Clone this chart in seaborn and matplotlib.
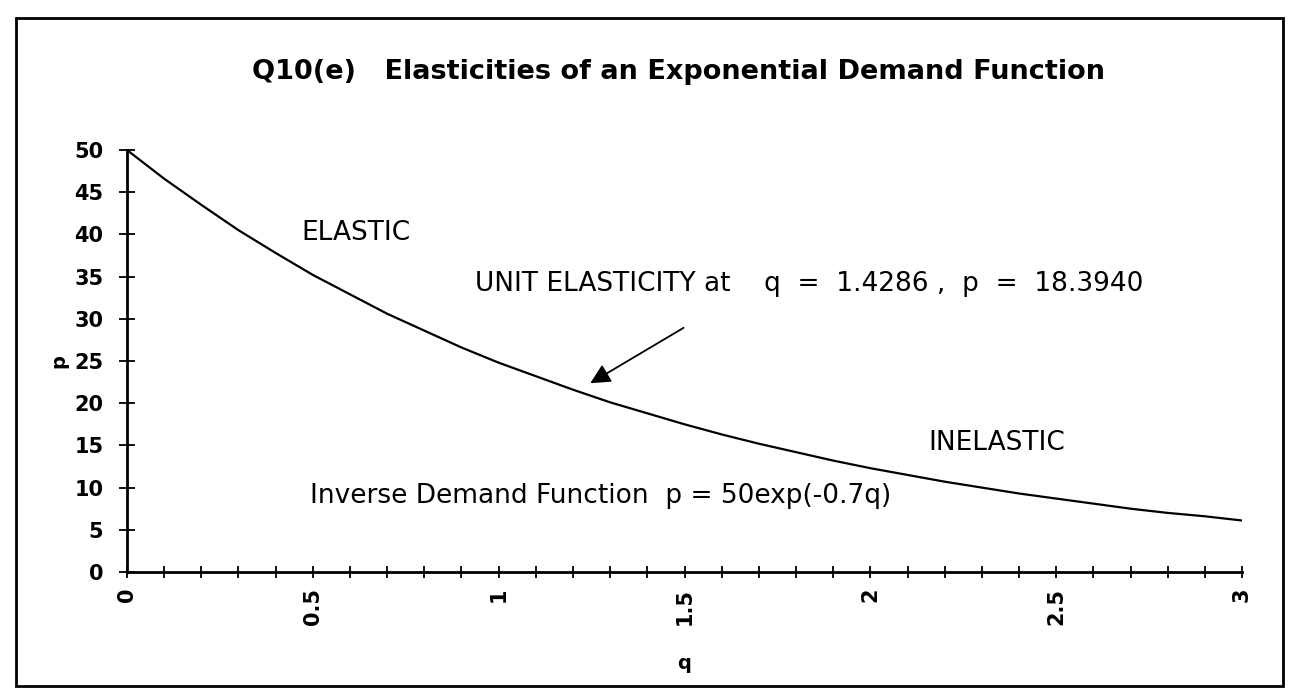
import matplotlib
matplotlib.use("Agg")
import matplotlib.pyplot as plt
import matplotlib.patches as mpatches
import seaborn as sns
import pandas as pd
import numpy as np

# Values
q_values = [0.0, 0.1, 0.2, 0.3, 0.4, 0.5, 0.6, 0.7, 0.8, 0.9, 1.0,
            1.1, 1.2, 1.3, 1.4, 1.5, 1.6, 1.7, 1.8, 1.9, 2.0,
            2.1, 2.2, 2.3, 2.4, 2.5, 2.6, 2.7, 2.8, 2.9, 3.0]
p_values = [50.0, 46.6, 43.5, 40.5, 37.8, 35.2, 32.9, 30.6, 28.6, 26.6, 24.8,
            23.2, 21.6, 20.1, 18.8, 17.5, 16.3, 15.2, 14.2, 13.2, 12.3,
            11.5, 10.7, 10.0, 9.3, 8.7, 8.1, 7.5, 7.0, 6.6, 6.1]
x_tick_values = [0, 0.5, 1, 1.5, 2, 2.5, 3]
x_tick_labels = ["0", "0.5", "1", "1.5", "2", "2.5", "3"]
y_tick_values = [0, 5, 10, 15, 20, 25, 30, 35, 40, 45, 50]

title = "Q10(e)   Elasticities of an Exponential Demand Function"
unit_text = "UNIT ELASTICITY at    q  =  1.4286 ,  p  =  18.3940"
demand_text = "Inverse Demand Function  p = 50exp(-0.7q)"

sns.set_theme(style="white")
plt.rcParams['font.family'] = ['DejaVu Sans']
plt.rcParams['text.color'] = 'black'
plt.rcParams['axes.labelcolor'] = 'black'
plt.rcParams['xtick.color'] = 'black'
plt.rcParams['ytick.color'] = 'black'

fig = plt.figure(figsize=(12.93, 6.99), dpi=100)
ax = fig.add_axes([0.0982, 0.1817, 0.8624, 0.6037])

df = pd.DataFrame({"q": q_values, "p": p_values})
sns.lineplot(data=df, x="q", y="p", ax=ax, color="black", linewidth=1.6)

ax.set_xlim(0, 3)
ax.set_ylim(0, 50)
ax.set_xticks(x_tick_values)
ax.set_xticklabels(x_tick_labels, rotation=90, fontsize=15, fontweight="bold")
ax.set_xticks(np.round(np.arange(0, 3.01, 0.1), 2), minor=True)
ax.set_yticks(y_tick_values)
ax.set_yticklabels([str(v) for v in y_tick_values], fontsize=15, fontweight="bold")
ax.tick_params(axis="x", which="both", direction="inout", length=9, width=1.3)
ax.tick_params(axis="y", which="both", direction="inout", length=12, width=1.3)
ax.tick_params(axis="both", which="both", bottom=True, left=True)
ax.tick_params(axis="x", which="major", pad=7)
ax.tick_params(axis="y", which="major", pad=11)

for side in ["top", "right"]:
    ax.spines[side].set_visible(False)
for side in ["left", "bottom"]:
    ax.spines[side].set_color("black")
    ax.spines[side].set_linewidth(2.0)

ax.set_xlabel("q", fontsize=14, fontweight="bold", labelpad=21)
ax.set_ylabel("p", fontsize=14, fontweight="bold", labelpad=4)
ax.grid(False)

ann_font = dict(fontsize=19, va="center", ha="left")
ax.text(0.468, 40.2, "ELASTIC", **ann_font)
ax.text(0.936, 34.1, unit_text, **ann_font)
ax.text(2.155, 15.3, "INELASTIC", **ann_font)
ax.text(0.492, 9.0, demand_text, **ann_font)

ax.annotate("", xy=(1.24, 22.2), xytext=(1.504, 29.1),
            arrowprops=dict(arrowstyle="-|>,head_length=1.0,head_width=0.5",
                            color="black", lw=1.3))

fig.text(0.1949, 0.897, title, fontsize=19.5, fontweight="bold", ha="left", va="center")

border = mpatches.Rectangle((0.0124, 0.0186), 0.98, 0.9554, transform=fig.transFigure,
                            fill=False, edgecolor="black", linewidth=2.0)
fig.patches.append(border)

fig.savefig("out.png", dpi=100, facecolor="white")
